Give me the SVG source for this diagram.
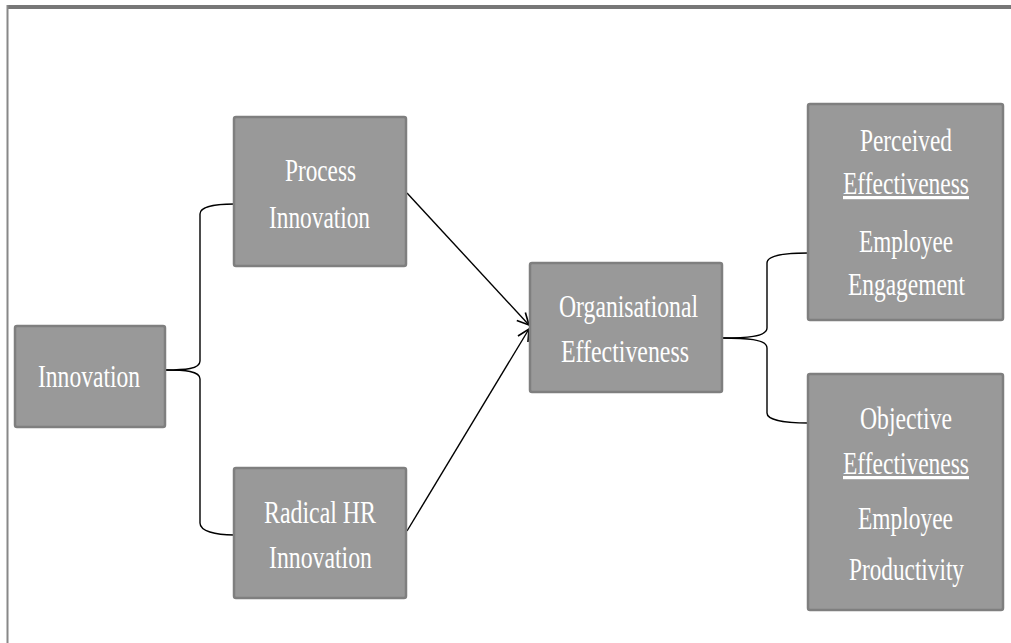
<svg xmlns="http://www.w3.org/2000/svg" width="1011" height="643" viewBox="0 0 1011 643">
  <style>
    .box { fill: #999999; stroke: #7f7f7f; stroke-width: 2.5; }
    .lbl { font-family: "Liberation Serif", "Times New Roman", serif; font-size: 32px; fill: #ffffff; }
    .under { text-decoration: underline; }
    .conn { fill: none; stroke: #000000; stroke-width: 1.4; }
  </style>
  <defs>
    <marker id="openArrow" markerUnits="userSpaceOnUse" markerWidth="14" markerHeight="14" viewBox="0 0 12 12" refX="11" refY="6" orient="auto">
      <path d="M1,1 L11,6 L1,11" fill="none" stroke="#000000" stroke-width="1.4"/>
    </marker>
  </defs>

  <rect width="1011" height="643" fill="#ffffff"/>

  <!-- page frame -->
  <g id="frame">
    <line x1="7" y1="7" x2="1011" y2="7" stroke="#777777" stroke-width="4"/>
    <line x1="7.5" y1="5" x2="7.5" y2="643" stroke="#888888" stroke-width="2"/>
  </g>

  <g id="connectors">
    <!-- brace: Innovation to its two types -->
    <path class="conn" d="M165,370 C185,370 200,369 200,361 L200,214 C200,207 215,204 234,204"/>
    <path class="conn" d="M165,370 C185,370 200,371 200,379 L200,523 C200,531 215,535 234,535"/>
    <!-- arrows into Organisational Effectiveness -->
    <path class="conn" d="M407,193 L529,325" marker-end="url(#openArrow)"/>
    <path class="conn" d="M407,531 L529,329" marker-end="url(#openArrow)"/>
    <!-- brace: Organisational Effectiveness to its two measures -->
    <path class="conn" d="M722,338 C745,338 767,337 767,328 L767,263 C767,255 785,253 808,253"/>
    <path class="conn" d="M722,338 C745,338 767,339 767,348 L767,413 C767,420 785,423 808,423"/>
  </g>

  <g id="innovation">
    <rect class="box" x="15" y="326" width="150" height="101" rx="2"/>
    <text class="lbl" x="38" y="387" textLength="102" lengthAdjust="spacingAndGlyphs">Innovation</text>
  </g>

  <g id="process-innovation">
    <rect class="box" x="234" y="117" width="172" height="149" rx="2"/>
    <text class="lbl" x="285" y="181" textLength="71" lengthAdjust="spacingAndGlyphs">Process</text>
    <text class="lbl" x="269" y="228" textLength="101" lengthAdjust="spacingAndGlyphs">Innovation</text>
  </g>

  <g id="radical-hr-innovation">
    <rect class="box" x="234" y="468" width="172" height="130" rx="2"/>
    <text class="lbl" x="264" y="523" textLength="112" lengthAdjust="spacingAndGlyphs">Radical HR</text>
    <text class="lbl" x="269" y="568" textLength="103" lengthAdjust="spacingAndGlyphs">Innovation</text>
  </g>

  <g id="organisational-effectiveness">
    <rect class="box" x="530" y="263" width="192" height="129" rx="2"/>
    <text class="lbl" x="559" y="317" textLength="139" lengthAdjust="spacingAndGlyphs">Organisational</text>
    <text class="lbl" x="561" y="362" textLength="128" lengthAdjust="spacingAndGlyphs">Effectiveness</text>
  </g>

  <g id="perceived-effectiveness">
    <rect class="box" x="808" y="104" width="195" height="216" rx="2"/>
    <text class="lbl" x="860" y="151" textLength="92" lengthAdjust="spacingAndGlyphs">Perceived</text>
    <text class="lbl under" x="843" y="194" textLength="126" lengthAdjust="spacingAndGlyphs">Effectiveness</text>
    <text class="lbl" x="859" y="252" textLength="94" lengthAdjust="spacingAndGlyphs">Employee</text>
    <text class="lbl" x="848" y="295" textLength="117" lengthAdjust="spacingAndGlyphs">Engagement</text>
  </g>

  <g id="objective-effectiveness">
    <rect class="box" x="808" y="374" width="195" height="236" rx="2"/>
    <text class="lbl" x="860" y="429" textLength="92" lengthAdjust="spacingAndGlyphs">Objective</text>
    <text class="lbl under" x="843" y="474" textLength="126" lengthAdjust="spacingAndGlyphs">Effectiveness</text>
    <text class="lbl" x="858" y="529" textLength="95" lengthAdjust="spacingAndGlyphs">Employee</text>
    <text class="lbl" x="849" y="580" textLength="115" lengthAdjust="spacingAndGlyphs">Productivity</text>
  </g>
</svg>
